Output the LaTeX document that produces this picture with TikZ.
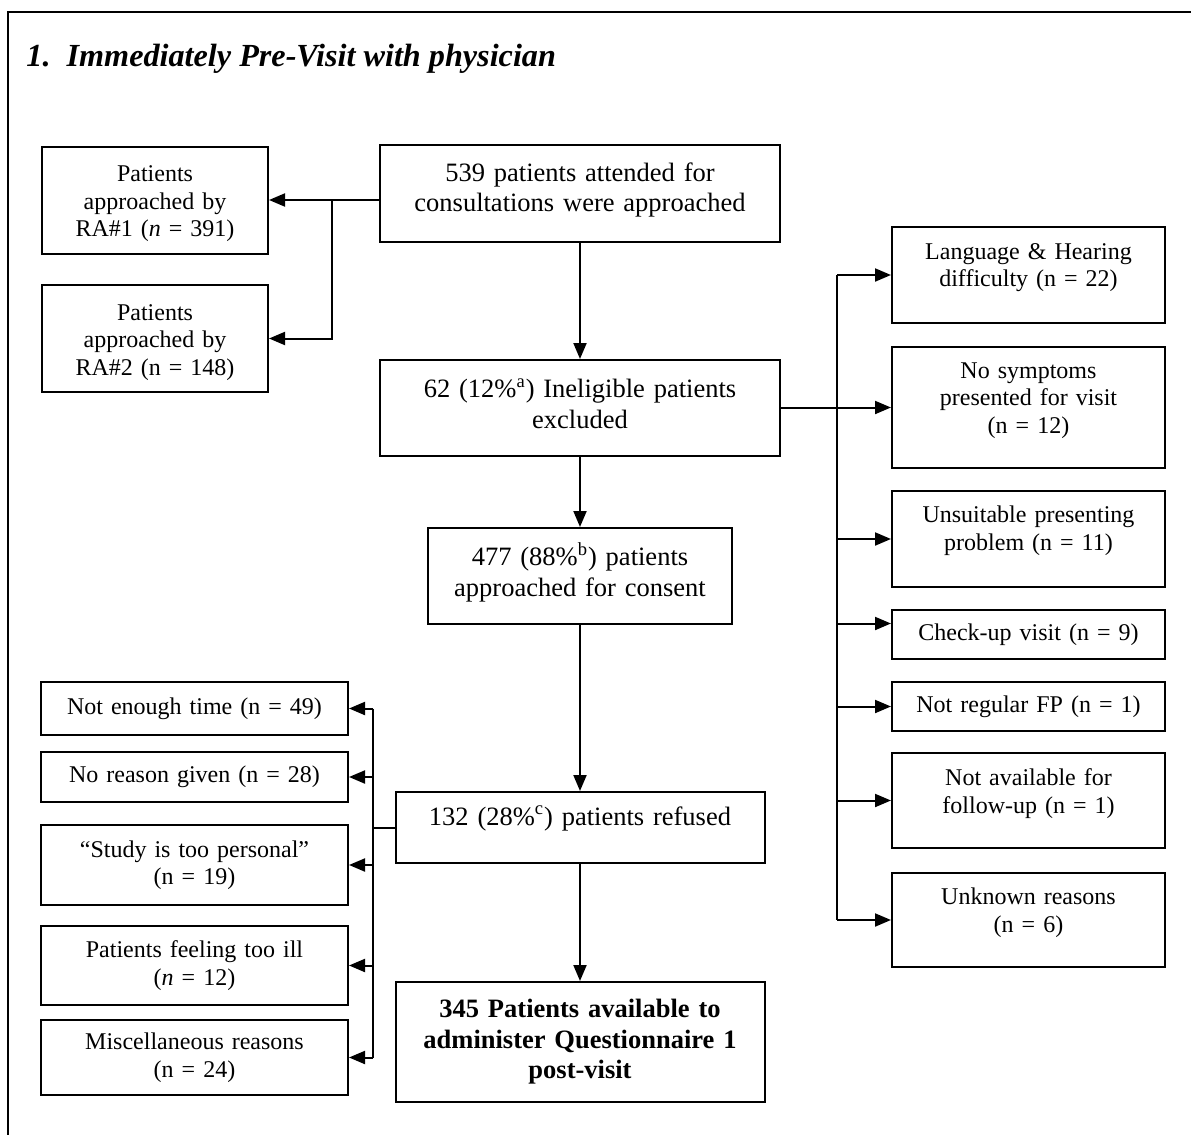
\documentclass[tikz,border=0pt]{standalone}
\usepackage{fontspec}
\setmainfont{Liberation Serif}
\usetikzlibrary{arrows.meta}
\newcommand\liftby[1]{\par\nointerlineskip\vspace{#1}\null}
\begin{document}
\begin{tikzpicture}[x=0.5pt,y=-0.5pt,
  box/.style={draw, line width=1pt, rectangle, inner xsep=0pt, inner ysep=0pt, align=center},
  side/.style={box, font=\fontsize{12}{13.75}\selectfont},
  spine/.style={box, font=\fontsize{13.25}{15.25}\selectfont},
  ln/.style={line width=1pt},
  arr/.style={line width=1pt, -{Triangle[length=8pt,width=6.5pt]}},
  frame/.style={line width=1pt}]
\useasboundingbox (0,0) rectangle (1191,1135);
\draw[frame] (8,1135) -- (8,12) -- (1191,12);
\node[anchor=base west, inner sep=0pt, font=\fontsize{16.1}{19}\selectfont\bfseries\itshape] (title) at (26,66) {1.\ \ Immediately Pre-Visit with physician};

% spine
\node[spine, text width=200pt, minimum height=48.5pt] (b539) at (580,193.5) {539 patients attended for\\consultations were approached\liftby{3.5pt}};
\node[spine, text width=200pt, minimum height=48pt] (b62) at (580,408) {62 (12\%\textsuperscript{a}) Ineligible patients\\excluded\liftby{4.5pt}};
\node[spine, text width=152pt, minimum height=48pt] (b477) at (580,576) {477 (88\%\textsuperscript{b}) patients\\approached for consent\liftby{4pt}};
\node[spine, text width=184.5pt, minimum height=35.5pt] (b132) at (580,827.5) {132 (28\%\textsuperscript{c}) patients refused\liftby{9pt}};
\node[spine, text width=184.5pt, minimum height=60pt, font=\fontsize{13.25}{15.25}\selectfont\bfseries] (b345) at (580,1042) {345 Patients available to\\administer Questionnaire 1\\post-visit};

% top-left
\node[side, text width=113pt, minimum height=53.5pt] (ra1) at (155,200) {\rule{0pt}{12pt}Patients\\approached by\\RA\#1 (\textit{n} = 391)};
\node[side, text width=113pt, minimum height=53.5pt] (ra2) at (155,338.5) {\rule{0pt}{12pt}Patients\\approached by\\RA\#2 (n = 148)};

% bottom-left
\node[side, text width=153.5pt, minimum height=26.5pt] (net) at (194.5,708.5) {Not enough time (n = 49)};
\node[side, text width=153.5pt, minimum height=25pt] (nrg) at (194.5,777) {No reason given (n = 28)};
\node[side, text width=153.5pt, minimum height=40pt] (stp) at (194.5,865) {``Study is too personal''\\(n = 19)};
\node[side, text width=153.5pt, minimum height=39.5pt] (ill) at (194.5,965.5) {Patients feeling too ill\\(\textit{n} = 12)};
\node[side, text width=153.5pt, minimum height=37.5pt] (misc) at (194.5,1057.5) {Miscellaneous reasons\\(n = 24)};

% right
\node[side, text width=136.5pt, minimum height=48pt] (lang) at (1028.5,275) {Language \& Hearing\\difficulty (n = 22)\liftby{7.5pt}};
\node[side, text width=136.5pt, minimum height=60.5pt] (nosym) at (1028.5,407.5) {No symptoms\\presented for visit\\(n = 12)\liftby{7pt}};
\node[side, text width=136.5pt, minimum height=48pt] (unsuit) at (1028.5,539) {Unsuitable presenting\\problem (n = 11)\liftby{8.5pt}};
\node[side, text width=136.5pt, minimum height=24.5pt] (chk) at (1028.5,634.5) {Check-up visit (n = 9)};
\node[side, text width=136.5pt, minimum height=24.5pt] (notreg) at (1028.5,706.5) {Not regular FP (n = 1)};
\node[side, text width=136.5pt, minimum height=47.5pt] (notav) at (1028.5,800.5) {Not available for\\follow-up (n = 1)\liftby{7pt}};
\node[side, text width=136.5pt, minimum height=47pt] (unk) at (1028.5,920) {Unknown reasons\\(n = 6)\liftby{7.5pt}};

% spine connectors
\draw[arr] (b539.south) -- (b62.north);
\draw[arr] (b62.south) -- (b477.north);
\draw[arr] (b477.south) -- (b132.north);
\draw[arr] (b132.south) -- (b345.north);

% top-left connectors
\coordinate (jl) at (332,0);
\draw[arr] (b539.west |- ra1.east) -- (ra1.east);
\draw[arr] (jl |- ra1.east) |- (ra2.east);

% right connectors
\coordinate (jr) at (837,0);
\coordinate (chkin) at ([yshift=5.5pt]chk.west);
\draw[ln] (jr |- lang.west) -- (jr |- unk.west);
\draw[ln] (b62.east |- nosym.west) -- (jr |- nosym.west);
\foreach \n in {lang,nosym,unsuit,chkin,notreg,notav,unk}
  \draw[arr] (jr |- \n) -- (\n);

% bottom-left connectors
\coordinate (jb) at (373,0);
\draw[ln] (b132.west) -- (jb |- b132.west);
\draw[ln] (jb |- net.east) -- (jb |- misc.east);
\foreach \n in {net,nrg,stp,ill,misc}
  \draw[arr] (jb |- \n.east) -- (\n.east);
\end{tikzpicture}
\end{document}
